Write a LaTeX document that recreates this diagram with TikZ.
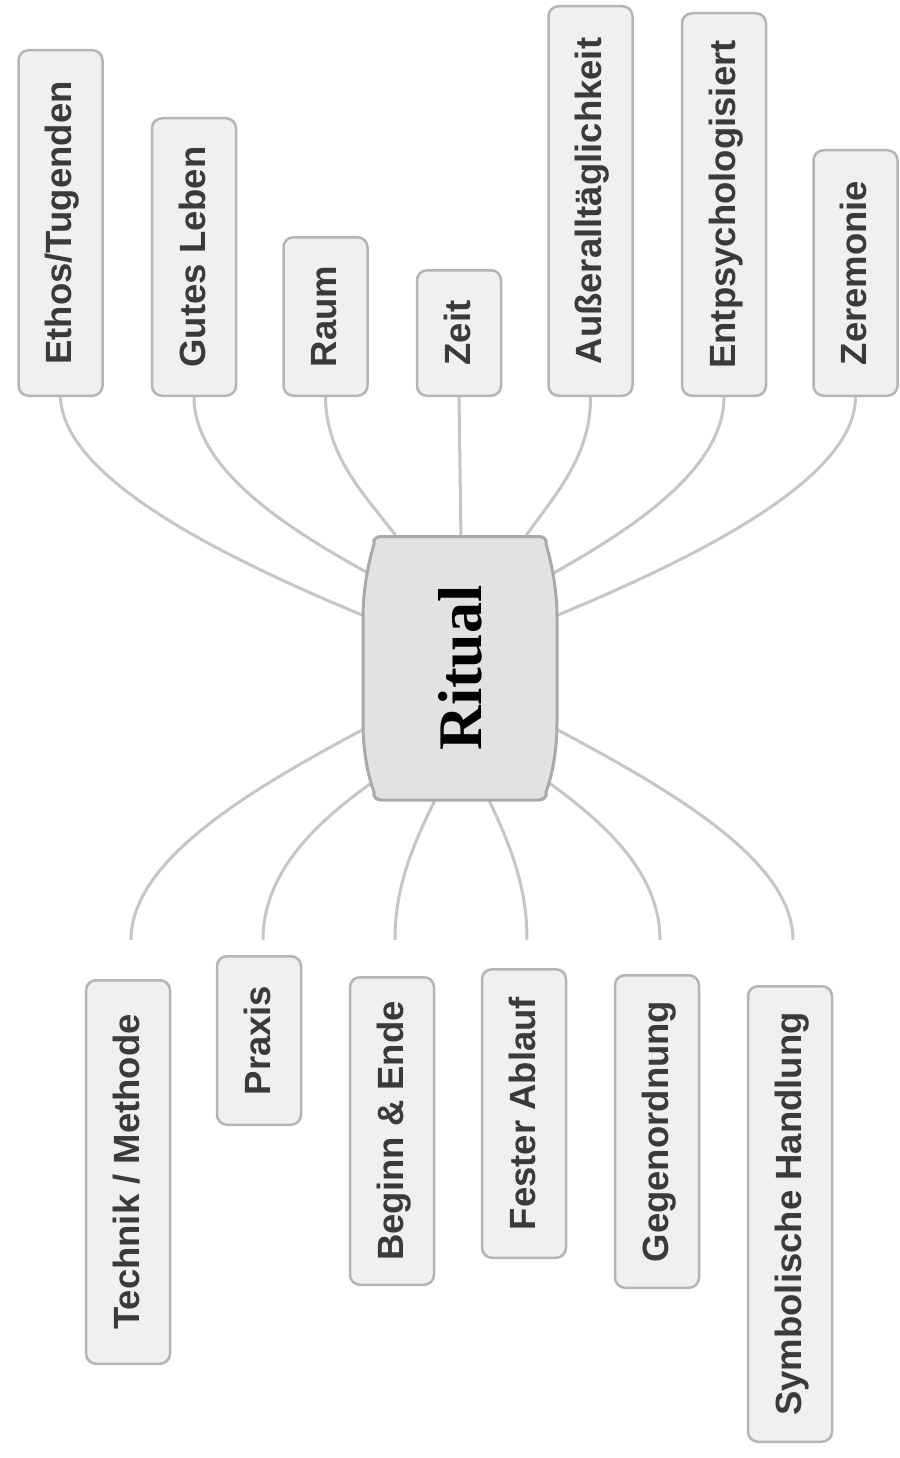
\documentclass[tikz,border=0pt]{standalone}
\usepackage{fontspec}
\setmainfont{Liberation Sans}
\newfontfamily\leaffont{Liberation Sans}
\newfontfamily\rootfont{Liberation Serif}
\definecolor{boxfill}{HTML}{F0F0F0}
\definecolor{boxline}{HTML}{B5B5B5}
\definecolor{txtc}{HTML}{3A3A3A}
\definecolor{connc}{HTML}{C6C6C6}
\definecolor{rootfill}{HTML}{E2E2E2}
\definecolor{rootline}{HTML}{A9A9A9}
\begin{document}
\begin{tikzpicture}[x=1pt,y=1pt,
  leaf/.style={rotate=90, draw=boxline, fill=boxfill, line width=2.5pt,
    rounded corners=10pt, font=\leaffont\bfseries\fontsize{36.5}{40}\selectfont,
    text=txtc, inner xsep=20pt, inner ysep=0pt, minimum height=84pt,
    text height=27pt, text depth=5pt},
  len/.style={minimum width=#1-2.5pt},
  conn/.style={draw=connc, line width=3pt}]
\useasboundingbox (0,0) rectangle (899,-1458);
\fill[white] (0,0) rectangle (899,-1458);

% top leaves (anchor west = bottom on page)
\node[leaf, len=348pt, anchor=west] (ethos) at (60.5,-397) {Ethos/Tugenden};
\node[leaf, len=280pt, anchor=west] (gutes) at (194,-397) {Gutes Leben};
\node[leaf, len=161pt, anchor=west] (raum) at (325.5,-397) {Raum};
\node[leaf, len=128pt, anchor=west] (zeit) at (459,-397) {Zeit};
\node[leaf, len=392pt, anchor=west] (ausser) at (590.5,-397) {Außeralltäglichkeit};
\node[leaf, len=385pt, anchor=west] (entp) at (724,-397) {Entpsychologisiert};
\node[leaf, len=248pt, anchor=west] (zer) at (855.5,-397) {Zeremonie};

% bottom leaves (anchor east = top on page)
\node[leaf, len=386pt, anchor=east] (technik) at (128,-979) {Technik / Methode};
\node[leaf, len=171pt, anchor=east] (praxis) at (259,-955) {Praxis};
\node[leaf, len=310pt, anchor=east] (beginn) at (392,-976) {Beginn \& Ende};
\node[leaf, len=291pt, anchor=east] (fester) at (524,-968) {Fester Ablauf};
\node[leaf, len=315pt, anchor=east] (gegen) at (657,-974) {Gegenordnung};
\node[leaf, len=458pt, anchor=east] (symb) at (790,-985) {Symbolische Handlung};

\coordinate (C) at (460,-668);
\coordinate (e1) at (131,-940);
\coordinate (e2) at (263,-940);
\coordinate (e3) at (395,-940);
\coordinate (e4) at (527,-940);
\coordinate (e5) at (660,-940);
\coordinate (e6) at (793,-940);

% top connectors
\draw[conn] (ethos.west) .. controls (63,-480) and (230,-560) .. ([shift={(-98,53)}]C);
\draw[conn] (gutes.west) .. controls (194,-470) and (290,-530) .. ([shift={(-92,95)}]C);
\draw[conn] (raum.west) .. controls (326,-460) and (370,-500) .. ([shift={(-61,128)}]C);
\draw[conn] (zeit.west) -- ([shift={(1,128)}]C);
\draw[conn] (ausser.west) .. controls (591,-460) and (550,-500) .. ([shift={(63,128)}]C);
\draw[conn] (entp.west) .. controls (724,-470) and (630,-530) .. ([shift={(92,94)}]C);
\draw[conn] (zer.west) .. controls (856,-480) and (690,-560) .. ([shift={(98,53)}]C);

% bottom connectors
\draw[conn] ([shift={(-98,-62)}]C) .. controls (250,-790) and (131,-860) .. (e1);
\draw[conn] ([shift={(-90,-116)}]C) .. controls (320,-820) and (263,-870) .. (e2);
\draw[conn] ([shift={(-23,-128)}]C) .. controls (410,-850) and (395,-890) .. (e3);
\draw[conn] ([shift={(27,-128)}]C) .. controls (513,-850) and (527,-890) .. (e4);
\draw[conn] ([shift={(88,-114)}]C) .. controls (600,-820) and (660,-870) .. (e5);
\draw[conn] ([shift={(98,-62)}]C) .. controls (670,-790) and (793,-860) .. (e6);

% central barrel shape
\draw[shift={(C)}, fill=rootfill, draw=rootline, line width=3pt]
  (-86,124) .. controls (-87,129) and (-84,131.5) .. (-78,131.5) -- (78,131.5)
  .. controls (84,131.5) and (87,129) .. (86,124)
  .. controls (93,100) and (97,75) .. (97,50) -- (97,-55)
  .. controls (97,-80) and (93,-105) .. (86,-124)
  .. controls (87,-129) and (84,-132) .. (78,-132) -- (-78,-132)
  .. controls (-84,-132) and (-87,-129) .. (-86,-124)
  .. controls (-93,-105) and (-97,-80) .. (-97,-55) -- (-97,50)
  .. controls (-97,75) and (-93,100) .. (-86,124) -- cycle;
\node[rotate=90, font=\rootfont\bfseries\fontsize{62}{64}\selectfont, text=black, inner sep=0pt] (ritual) at (C) {Ritual};
\end{tikzpicture}
\end{document}
